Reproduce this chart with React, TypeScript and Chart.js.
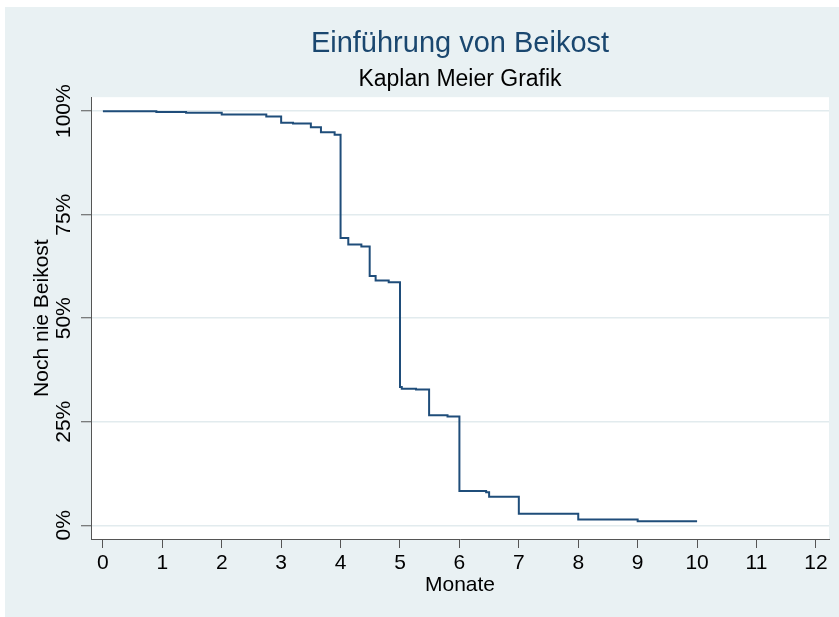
import React, { useEffect, useRef } from "react";
import { Chart, registerables } from "chart.js";

Chart.register(...registerables);

// Kaplan-Meier step data (months, % never weaned)
const months = [0, 0.9, 1.4, 2.0, 2.75, 3.0, 3.2, 3.5, 3.67, 3.9, 4.0, 4.13, 4.35, 4.49, 4.59, 4.81, 5.0, 5.03, 5.27, 5.49, 5.8, 6.0, 6.45, 6.5, 7.0, 8.0, 9.0, 10.0];
const survival = [100, 99.8, 99.6, 99.2, 98.7, 97.2, 97.0, 96.1, 94.9, 94.3, 69.4, 67.8, 67.3, 60.2, 59.1, 58.7, 33.4, 33.0, 32.8, 26.6, 26.3, 8.3, 8.0, 6.9, 2.8, 1.4, 1.0, 1.0];

const xTicks = [0, 1, 2, 3, 4, 5, 6, 7, 8, 9, 10, 11, 12];
const yTicks = [0, 25, 50, 75, 100];
const yTickLabels = ["0%", "25%", "50%", "75%", "100%"];

const titleText = "Einführung von Beikost";
const subtitleText = "Kaplan Meier Grafik";
const xTitle = "Monate";
const yTitle = "Noch nie Beikost";

const FONT = "'Liberation Sans', Arial, Helvetica, sans-serif";

const bgPlugin = {
  id: "bgPlugin",
  beforeDraw(chart: any) {
    const { ctx, chartArea } = chart;
    ctx.save();
    ctx.fillStyle = "#ffffff";
    ctx.fillRect(0, 0, chart.width, chart.height);
    ctx.fillStyle = "#e9f1f3";
    ctx.fillRect(5, 7, chart.width - 5, chart.height - 7);
    ctx.fillStyle = "#ffffff";
    ctx.fillRect(chartArea.left, chartArea.top, chartArea.right - chartArea.left, chartArea.bottom - chartArea.top);
    ctx.restore();
  },
};

export default function App() {
  const ref = useRef<HTMLCanvasElement | null>(null);

  useEffect(() => {
    if (!ref.current) return;
    const data = months.map((m, i) => ({ x: m, y: survival[i] }));
    const chart = new Chart(ref.current, {
      type: "line",
      data: {
        datasets: [
          {
            data,
            stepped: "before",
            borderColor: "#1f4d7a",
            borderWidth: 2,
            pointRadius: 0,
            fill: false,
          },
        ],
      },
      options: {
        animation: false,
        responsive: false,
        devicePixelRatio: 1,
        events: [],
        layout: { padding: { top: 7, left: 0, right: 10, bottom: 0 } },
        plugins: {
          legend: { display: false },
          tooltip: { enabled: false },
          title: {
            display: true,
            text: titleText,
            color: "#1a476f",
            fullSize: false,
            font: { family: FONT, size: 29, weight: "normal" },
            padding: { top: 19.6, bottom: 2 },
          },
          subtitle: {
            display: true,
            text: subtitleText,
            color: "#000000",
            fullSize: false,
            font: { family: FONT, size: 23, weight: "normal" },
            padding: { top: 2, bottom: 4.2 },
          },
        },
        scales: {
          x: {
            type: "linear",
            min: -0.2,
            max: 12.22,
            afterBuildTicks: (scale: any) => {
              scale.ticks = xTicks.map((v) => ({ value: v }));
            },
            afterFit: (scale: any) => {
              scale.height = 78;
            },
            ticks: {
              color: "#000000",
              font: { family: FONT, size: 21 },
              padding: 3,
              maxRotation: 0,
              minRotation: 0,
              autoSkip: false,
              callback: (v: any) => String(v),
            },
            grid: {
              drawOnChartArea: false,
              drawTicks: true,
              tickLength: 9,
              tickColor: "#555555",
              tickWidth: 1,
            },
            border: { display: true, color: "#555555", width: 1 },
            title: {
              display: true,
              text: xTitle,
              color: "#000000",
              font: { family: FONT, size: 21 },
              padding: { top: 0, bottom: 19 },
            },
          },
          y: {
            type: "linear",
            min: -3.31,
            max: 103.38,
            afterBuildTicks: (scale: any) => {
              scale.ticks = yTicks.map((v) => ({ value: v }));
            },
            afterFit: (scale: any) => {
              scale.width = 91;
            },
            ticks: {
              color: "#000000",
              font: { family: FONT, size: 21 },
              padding: -10,
              minRotation: 90,
              maxRotation: 90,
              crossAlign: "center",
              autoSkip: false,
              callback: (_v: any, i: number) => yTickLabels[i],
            },
            grid: {
              color: "#e2ebee",
              lineWidth: 1.5,
              drawTicks: true,
              tickLength: 10,
              tickColor: "#555555",
              tickWidth: 1,
            },
            border: { display: true, color: "#555555", width: 1 },
            title: {
              display: true,
              text: yTitle,
              color: "#000000",
              font: { family: FONT, size: 21 },
              padding: { top: 29.4, bottom: 0 },
            },
          },
        },
      },
      plugins: [bgPlugin],
    } as any);
    return () => chart.destroy();
  }, []);

  return (
    <div style={{ position: "absolute", left: 0, top: 0, width: 839, height: 617 }}>
      <canvas ref={ref} width={839} height={617} style={{ display: "block" }} />
    </div>
  );
}
